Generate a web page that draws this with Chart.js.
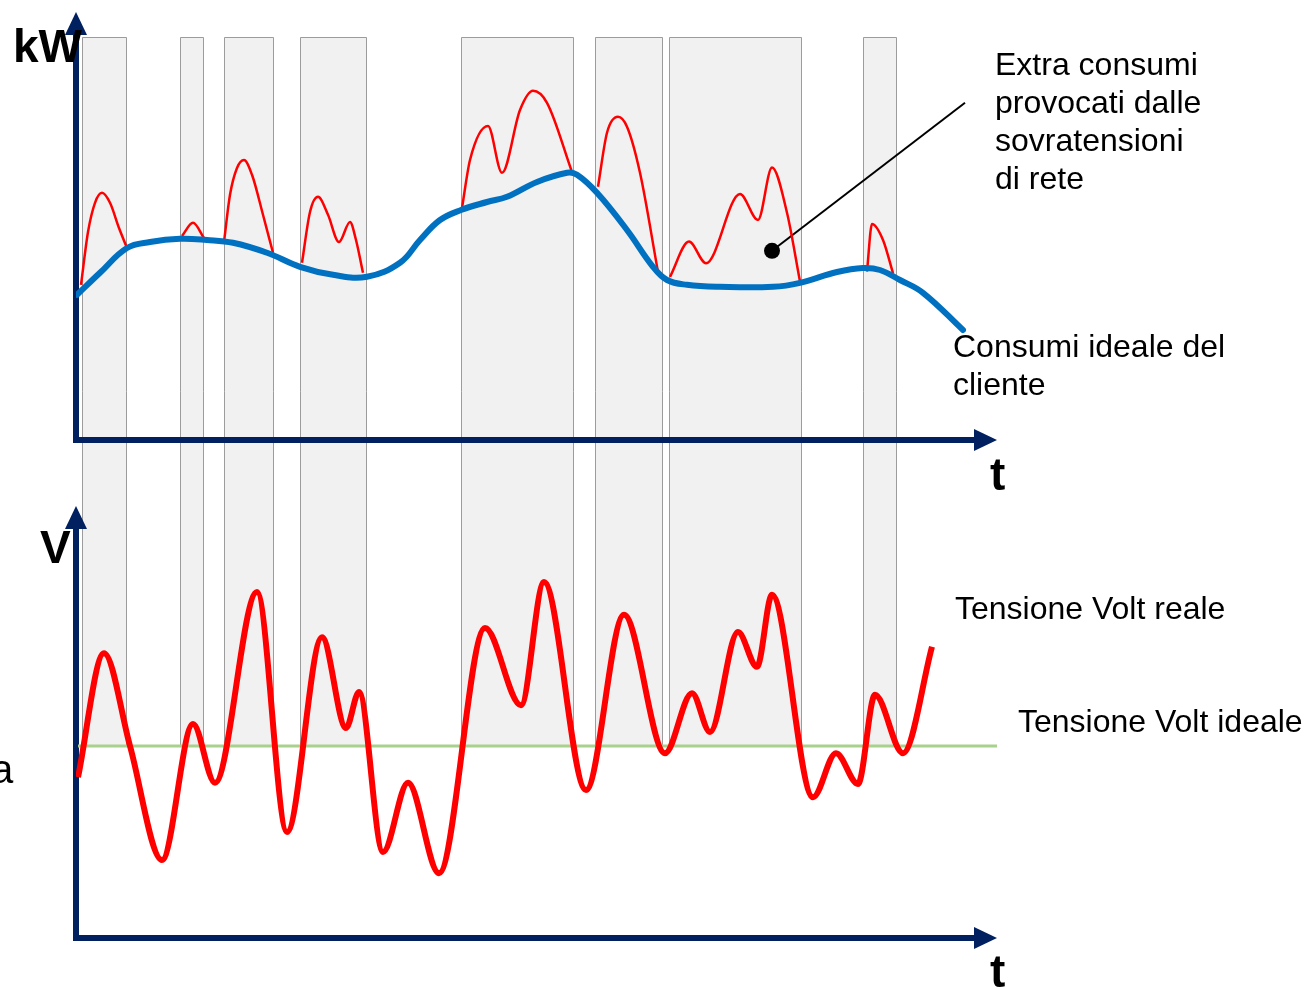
<!DOCTYPE html>
<html>
<head>
<meta charset="utf-8">
<script src="https://cdn.jsdelivr.net/npm/chart.js@4/dist/chart.umd.min.js"></script>
<style>
  body { margin: 0; background: #fff; }
  #wrap { position: relative; width: 1311px; height: 988px; overflow: hidden; }
  canvas { position: absolute; left: 0; top: 0; }
  .lbl { position: absolute; font-family: "Liberation Sans", Arial, sans-serif; color: #000; white-space: nowrap; }
  .note { font-size: 32px; line-height: 38px; }
  .axis { font-size: 46px; line-height: 46px; font-weight: bold; }
</style>
</head>
<body>
<div id="wrap">
  <canvas id="energyChart" width="1311" height="988"></canvas>
  <div class="lbl axis" style="left:13px; top:23px;">kW</div>
  <div class="lbl axis" style="left:990px; top:451px;">t</div>
  <div class="lbl axis" style="left:40px; top:524px;">V</div>
  <div class="lbl axis" style="left:990px; top:948px;">t</div>
  <div class="lbl note" style="left:995px; top:45px;">Extra consumi<br>provocati dalle<br>sovratensioni<br>di rete</div>
  <div class="lbl note" style="left:953px; top:327px;">Consumi ideale del<br>cliente</div>
  <div class="lbl note" style="left:955px; top:589px;">Tensione Volt reale</div>
  <div class="lbl note" style="left:1018px; top:702px;">Tensione Volt ideale</div>
  <div class="lbl" style="left:-9px; top:749px; font-size:40px; line-height:40px;">a</div>
</div>
<script>
// periods with over-voltage (shaded bands)
const bandStart = [0.6, 10.4, 14.8, 22.4, 38.5, 51.9, 59.3, 78.7];
const bandEnd   = [5.1, 12.8, 19.8, 29.1, 49.8, 58.7, 72.6, 82.1];

// ideal customer consumption (kW)
const idealTime = [0.1, 2.4, 5.1, 7.4, 10.4, 13.1, 15.7, 19.1, 22.4, 25.7, 29.1, 32.4, 34.4, 36.4, 38.5, 41.1, 43.1, 46.1, 49.1, 50.1, 52.1, 55.1, 57.7, 59.1, 61.1, 64.4, 69.7, 72.4, 76.1, 78.7, 80.4, 82.4, 84.7, 88.7];
const idealKW   = [3.63, 4.18, 4.8, 4.95, 5.03, 5.0, 4.93, 4.68, 4.33, 4.13, 4.08, 4.43, 5.0, 5.5, 5.75, 5.95, 6.08, 6.45, 6.68, 6.63, 6.18, 5.25, 4.33, 4.0, 3.88, 3.83, 3.83, 3.93, 4.2, 4.3, 4.25, 4.0, 3.68, 2.75];

// extra consumption during over-voltage (kW), null = gap
const extraTime = [0.5, 1.2, 1.9, 2.6, 3.4, 4.3, 5.1, 5.2,
                   10.6, 11.7, 12.8, 12.9,
                   14.8, 15.4, 16.1, 16.8, 17.6, 18.7, 19.7, 19.8,
                   22.6, 23.4, 24.2, 25.2, 26.3, 27.4, 28.0, 28.7, 28.8,
                   38.6, 39.4, 41.2, 42.6, 44.4, 45.7, 47.1, 49.6, 49.7,
                   52.2, 53.1, 54.2, 55.1, 56.4, 58.2, 58.3,
                   59.4, 61.3, 63.0, 66.4, 68.2, 69.6, 71.1, 72.4, 72.5,
                   79.1, 79.6, 80.7, 81.7];
const extraKW   = [3.88, 5.2, 5.93, 6.18, 5.93, 5.3, 4.8, null,
                   5.1, 5.43, 5.05, null,
                   4.95, 6.13, 6.8, 7.0, 6.63, 5.63, 4.68, null,
                   4.43, 5.7, 6.08, 5.63, 4.95, 5.45, 5.0, 4.18, null,
                   5.8, 7.0, 7.85, 6.68, 8.25, 8.73, 8.43, 6.7, null,
                   6.33, 7.68, 8.08, 7.83, 6.68, 4.2, null,
                   4.08, 4.96, 4.42, 6.15, 5.5, 6.81, 5.68, 3.96, null,
                   4.21, 5.4, 5.0, 4.17];

// real grid voltage (V)
const voltTime = [0.2, 2.8, 5.4, 8.6, 11.7, 13.9, 18.1, 21.1, 24.6, 27.0, 28.3, 30.7, 33.2, 36.3, 40.9, 44.5, 46.8, 51.0, 54.8, 58.9, 61.6, 63.4, 66.2, 68.1, 69.6, 73.7, 76.0, 78.2, 79.9, 82.7, 85.6];
const voltReal = [226.1, 241.6, 230.0, 215.75, 232.75, 225.4, 249.25, 219.25, 243.6, 232.25, 236.75, 216.75, 225.4, 214.1, 244.75, 235.1, 250.5, 224.5, 246.4, 229.1, 236.6, 231.75, 244.25, 239.9, 248.9, 223.6, 229.1, 225.25, 236.4, 229.1, 242.4];

// ideal voltage
const idealVolt = 230;
const idealVoltTime = [0.2, 92.1];

// callout pointer
const calloutTime = [69.6, 88.9];
const calloutKW = [4.73, 8.43];

const bandTopKW = 10.07;
const kWAxisTop = 10.7;
const vAxisBase = 206;
const vAxisTop = 260;
const timeEnd = 92.1;

const pts = (xs, ys) => xs.map((x, i) => ({ x: x, y: ys[i] }));

function arrow(ctx, x1, y1, x2, y2) {
    const a = Math.atan2(y2 - y1, x2 - x1);
    const len = 23, half = 11;
    const bx = x2 - len * Math.cos(a), by = y2 - len * Math.sin(a);
    ctx.lineWidth = 6;
    ctx.beginPath();
    ctx.moveTo(x1, y1);
    ctx.lineTo(bx, by);
    ctx.stroke();
    ctx.beginPath();
    ctx.moveTo(x2, y2);
    ctx.lineTo(bx - half * Math.sin(a), by + half * Math.cos(a));
    ctx.lineTo(bx + half * Math.sin(a), by - half * Math.cos(a));
    ctx.closePath();
    ctx.fill();
}

const overlay = {
    id: 'overlay',
    beforeDatasetsDraw(chart) {
        const { ctx } = chart;
        const { x, yKW, yV } = chart.scales;
        const top = Math.round(yKW.getPixelForValue(bandTopKW));
        const bottom = yV.getPixelForValue(idealVolt);
        ctx.save();
        bandStart.forEach((s, i) => {
            const l = Math.round(x.getPixelForValue(s));
            const r = Math.round(x.getPixelForValue(bandEnd[i]));
            ctx.fillStyle = '#f1f1f1';
            ctx.fillRect(l, top, r - l, bottom - top);
            ctx.strokeStyle = '#9c9c9c';
            ctx.lineWidth = 1;
            ctx.beginPath();
            ctx.moveTo(l + 0.5, bottom);
            ctx.lineTo(l + 0.5, top + 0.5);
            ctx.lineTo(r - 0.5, top + 0.5);
            ctx.lineTo(r - 0.5, bottom);
            ctx.stroke();
        });

        // axes with arrows
        ctx.strokeStyle = '#002060';
        ctx.fillStyle = '#002060';
        const x0 = x.getPixelForValue(0);
        const xEnd = x.getPixelForValue(timeEnd);
        const kw0 = yKW.getPixelForValue(0);
        arrow(ctx, x0, kw0 + 3, x0, yKW.getPixelForValue(kWAxisTop));
        arrow(ctx, x0 - 3, kw0, xEnd, kw0);
        const v0 = yV.getPixelForValue(vAxisBase);
        arrow(ctx, x0, v0 + 3, x0, yV.getPixelForValue(vAxisTop));
        arrow(ctx, x0 - 3, v0, xEnd, v0);
        ctx.restore();
    }
};

const ctx = document.getElementById('energyChart').getContext('2d');
const energyChart = new Chart(ctx, {
    type: 'line',
    data: {
        datasets: [
            {
                label: 'Consumi ideale del cliente',
                data: pts(idealTime, idealKW),
                yAxisID: 'yKW',
                borderColor: '#0070c0',
                borderWidth: 6,
                pointRadius: 0,
                tension: 0.4,
                borderCapStyle: 'round',
                order: 0
            },
            {
                label: 'Extra consumi',
                data: pts(extraTime, extraKW),
                yAxisID: 'yKW',
                borderColor: '#ff0000',
                borderWidth: 2.5,
                pointRadius: 0,
                spanGaps: false,
                cubicInterpolationMode: 'monotone',
                order: 1
            },
            {
                label: 'Callout',
                data: pts(calloutTime, calloutKW),
                yAxisID: 'yKW',
                borderColor: '#000',
                borderWidth: 2,
                pointRadius: [8, 0],
                pointBackgroundColor: '#000',
                pointBorderWidth: 0,
                tension: 0,
                order: 2
            },
            {
                label: 'Tensione Volt ideale',
                data: idealVoltTime.map(t => ({ x: t, y: idealVolt })),
                yAxisID: 'yV',
                borderColor: '#a9d18e',
                borderWidth: 3,
                pointRadius: 0,
                order: 4
            },
            {
                label: 'Tensione Volt reale',
                data: pts(voltTime, voltReal),
                yAxisID: 'yV',
                borderColor: '#ff0000',
                borderWidth: 6,
                pointRadius: 0,
                cubicInterpolationMode: 'monotone',
                order: 3
            }
        ]
    },
    options: {
        responsive: false,
        animation: false,
        events: [],
        layout: { padding: { left: 76, right: 314, top: 15, bottom: 50 } },
        plugins: { legend: { display: false }, tooltip: { enabled: false } },
        scales: {
            x: { type: 'linear', min: 0, max: timeEnd, display: false },
            yKW: { type: 'linear', position: 'left', min: -12.45, max: 10.625, display: false },
            yV: { type: 'linear', position: 'left', min: 206, max: 321.375, display: false }
        }
    },
    plugins: [overlay]
});
</script>
</body>
</html>
